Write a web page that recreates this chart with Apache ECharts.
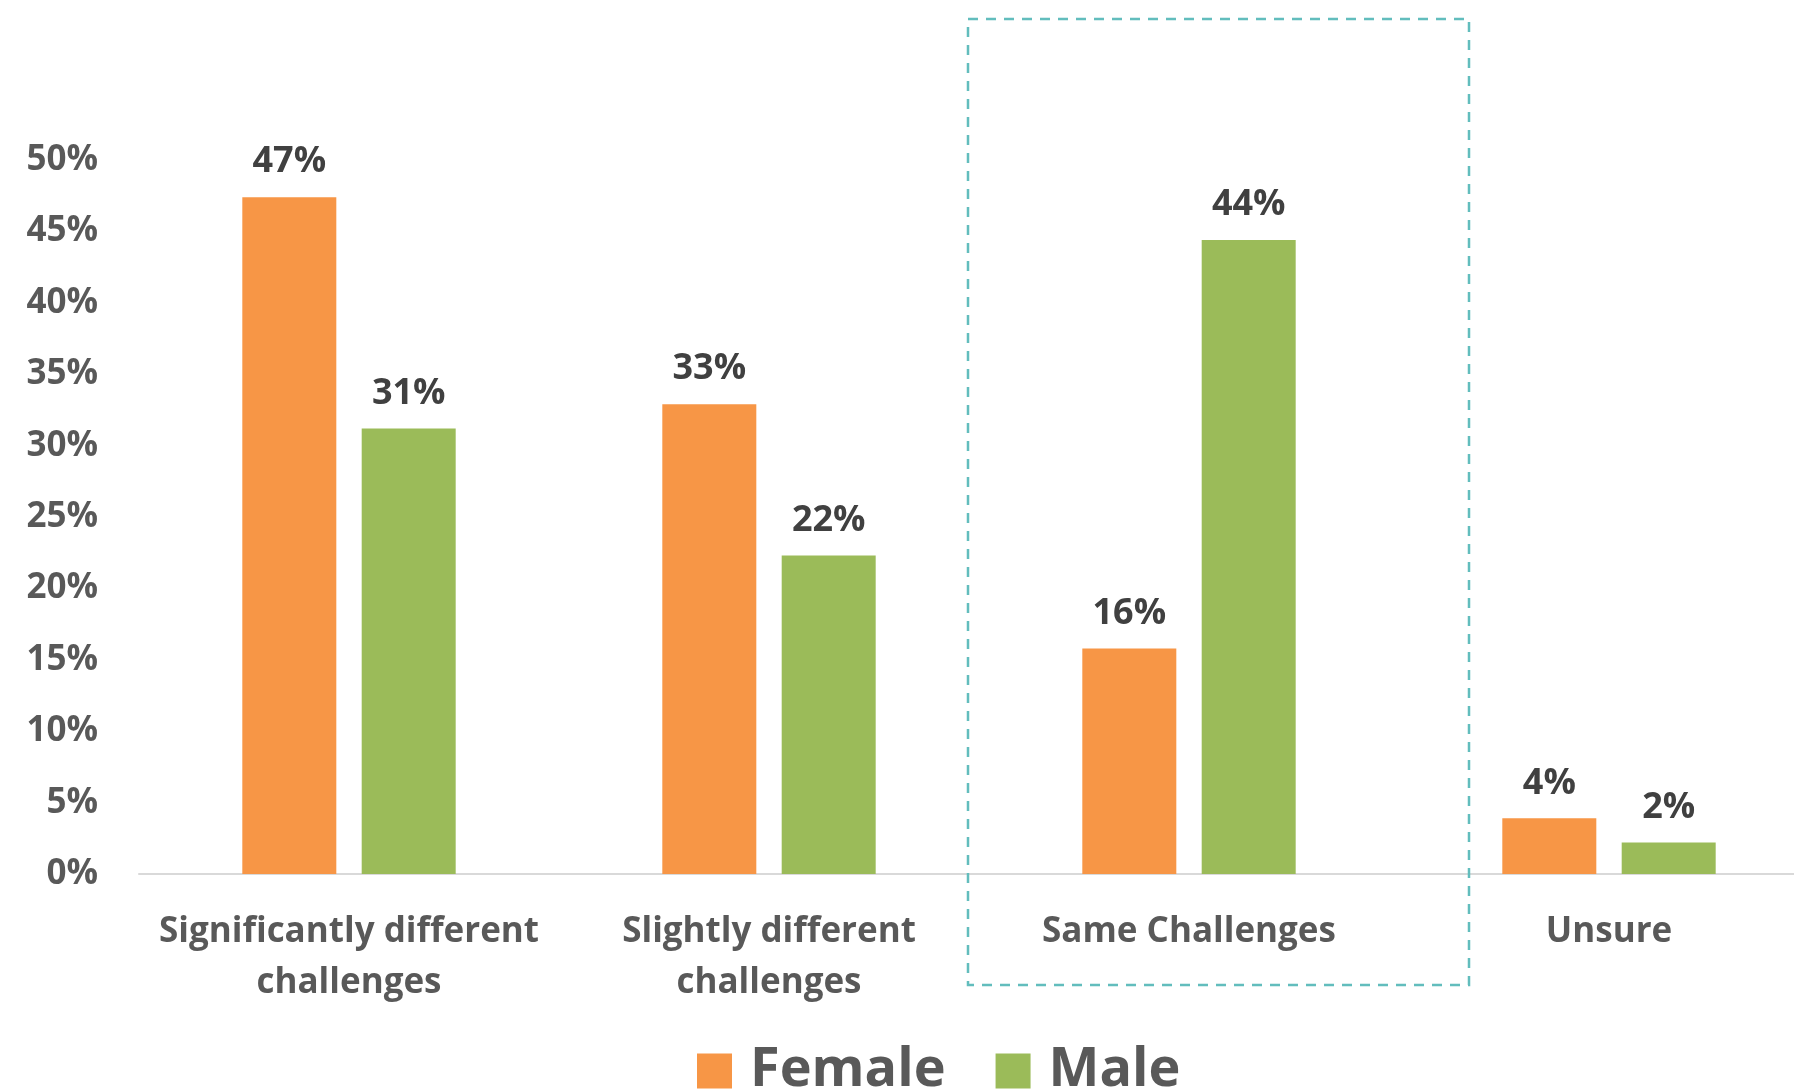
<!DOCTYPE html>
<html>
<head>
<meta charset="utf-8">
<script src="https://cdn.jsdelivr.net/npm/echarts@6/dist/echarts.min.js"></script>
<style>
html,body{margin:0;padding:0;background:#fff;}
#chart{width:1794px;height:1089px;}
</style>
</head>
<body>
<div id="chart"></div>
<script>
var categories = ['Significantly different\nchallenges', 'Slightly different\nchallenges', 'Same Challenges', 'Unsure'];
var seriesNames = ['Female', 'Male'];
var femaleValues = [47.4, 32.9, 15.8, 3.9];
var maleValues = [31.2, 22.3, 44.4, 2.2];
var yTicks = [0, 5, 10, 15, 20, 25, 30, 35, 40, 45, 50];

var FONT = '"Open Sans", "Noto Sans", sans-serif';
var chart = echarts.init(document.getElementById('chart'));

function labelCfg() {
  return {
    show: true,
    position: 'top',
    distance: 17,
    fontFamily: FONT,
    fontWeight: 'bold',
    fontSize: 36,
    color: '#404040',
    formatter: function (p) { return Math.round(p.value) + '%'; }
  };
}

chart.setOption({
  animation: false,
  backgroundColor: '#ffffff',
  textStyle: { fontFamily: FONT },
  grid: { left: 139, right: -25, top: 160, bottom: 215, containLabel: false, outerBoundsMode: 'none' },
  legend: {
    data: seriesNames,
    left: 692,
    top: 1036,
    itemWidth: 35,
    itemHeight: 35,
    itemGap: 50,
    icon: 'rect',
    textStyle: {
      fontFamily: FONT,
      fontWeight: 'bold',
      fontSize: 54,
      lineHeight: 60,
      color: '#595959',
      padding: [0, 0, 0, 13]
    }
  },
  xAxis: {
    type: 'category',
    data: categories,
    axisLine: { show: true, lineStyle: { color: '#D9D9D9', width: 2 } },
    axisTick: { show: false },
    axisLabel: {
      interval: 0,
      margin: 33,
      fontFamily: FONT,
      fontWeight: 'bold',
      fontSize: 35,
      lineHeight: 51,
      color: '#595959'
    }
  },
  yAxis: {
    type: 'value',
    min: yTicks[0],
    max: yTicks[yTicks.length - 1],
    interval: yTicks[1] - yTicks[0],
    axisLine: { show: false },
    axisTick: { show: false },
    splitLine: { show: false },
    axisLabel: {
      margin: 41,
      fontFamily: FONT,
      fontWeight: 'bold',
      fontSize: 35,
      color: '#595959',
      formatter: '{value}%'
    }
  },
  series: [
    {
      name: seriesNames[0],
      type: 'bar',
      data: femaleValues,
      barWidth: 94,
      barGap: '27%',
      itemStyle: { color: '#F79646' },
      label: labelCfg()
    },
    {
      name: seriesNames[1],
      type: 'bar',
      data: maleValues,
      barWidth: 94,
      barGap: '27%',
      itemStyle: { color: '#9BBB59' },
      label: labelCfg()
    }
  ],
  graphic: [
    {
      type: 'rect',
      silent: true,
      z: 100,
      shape: { x: 968, y: 19, width: 501, height: 966 },
      style: {
        fill: 'none',
        stroke: '#62BDBD',
        lineWidth: 2.5,
        lineDash: [10, 8]
      }
    }
  ]
});
</script>
</body>
</html>
